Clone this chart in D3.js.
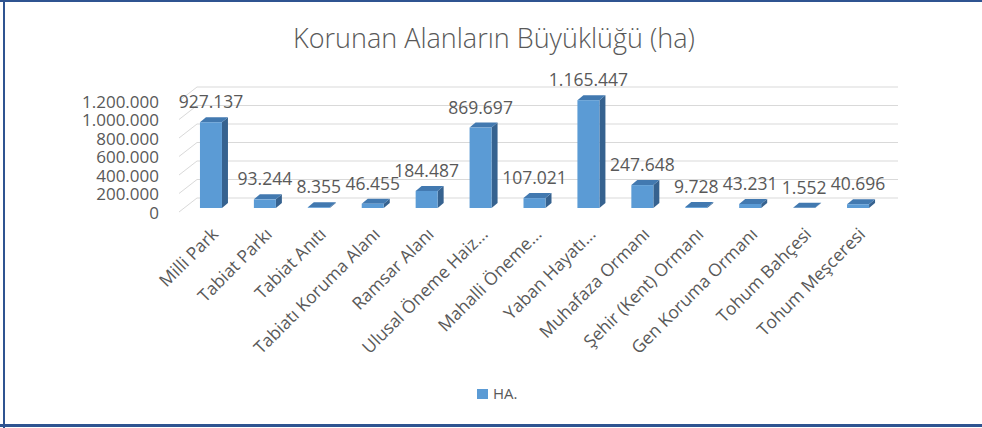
<!DOCTYPE html>
<meta charset="utf-8">
<style>
body { margin: 0; background: #fff; }
text { font-family: "Open Sans", "Noto Sans", sans-serif; fill: #595959; }
.grid { stroke: #d9d9d9; stroke-width: 1; fill: none; }
</style>
<svg id="chart" width="982" height="428"></svg>
<script src="https://cdnjs.cloudflare.com/ajax/libs/d3/7.8.5/d3.min.js"></script>
<script>

var categories = ["Milli Park", "Tabiat Parkı", "Tabiat Anıtı", "Tabiatı Koruma Alanı", "Ramsar Alanı",
  "Ulusal Öneme Haiz...", "Mahalli Öneme...", "Yaban Hayatı...", "Muhafaza Ormanı",
  "Şehir (Kent) Ormanı", "Gen Koruma Ormanı", "Tohum Bahçesi", "Tohum Meşceresi"];
var values = [927137, 93244, 8355, 46455, 184487, 869697, 107021, 1165447, 247648, 9728, 43231, 1552, 40696];
var yTicks = [0, 200000, 400000, 600000, 800000, 1000000, 1200000];
var seriesName = "HA.";
var title = "Korunan Alanların Büyüklüğü (ha)";

var svg = d3.select("#chart"),
    width = +svg.attr("width"),
    height = +svg.attr("height");

var trFormat = d3.formatLocale({decimal: ",", thousands: ".", grouping: [3], currency: ["", " TL"]}).format(",d");

// back wall coordinates
var x = d3.scaleBand().domain(categories).range([197, 898]);
var y = d3.scaleLinear().domain([0, 1200000]).range([198, 87]);

// depth of the side wall and where the bar fronts sit
var wallDx = -18, wallDy = 14;
var frontDx = -13, frontDy = 10;
var barW = 22, depthDx = 6, depthDy = -5;

// border (top, left, bottom)
svg.append("rect").attr("x", 0).attr("y", 0).attr("width", width).attr("height", 2).attr("fill", "#2f5491");
svg.append("rect").attr("x", 3).attr("y", 0).attr("width", 2).attr("height", height).attr("fill", "#2f5491");
svg.append("rect").attr("x", 0).attr("y", 424).attr("width", width).attr("height", 3).attr("fill", "#2f5491");

svg.append("text")
    .attr("x", 494)
    .attr("y", 48)
    .attr("text-anchor", "middle")
    .style("font-size", "27px")
    .style("font-weight", 300)
    .text(title);

// gridlines on the back wall and side wall
var grid = svg.append("g");
yTicks.forEach(function(t) {
  grid.append("path")
    .attr("class", "grid")
    .attr("d", "M" + (x.range()[0] + wallDx) + "," + (y(t) + wallDy) +
               " L" + x.range()[0] + "," + y(t) +
               " L" + x.range()[1] + "," + y(t));
});

svg.append("g").selectAll("text")
  .data(yTicks)
  .enter().append("text")
    .attr("x", 159)
    .attr("y", function(d) { return y(d) + 15; })
    .attr("dy", "0.35em")
    .attr("text-anchor", "end")
    .style("font-size", "17px")
    .text(function(d) { return trFormat(d); });

// bars
var bars = svg.append("g").selectAll("g")
  .data(values)
  .enter().append("g");

function fx(i) { return x(categories[i]) + x.bandwidth() / 2 + frontDx - barW / 2; }
function fy(v) { return y(v) + frontDy; }
var y0 = fy(0);

bars.append("path")
    .attr("fill", "#36628f")
    .attr("d", function(d, i) {
      var x1 = fx(i) + barW, t = fy(d);
      return "M" + x1 + "," + t + " L" + (x1 + depthDx) + "," + (t + depthDy) +
             " L" + (x1 + depthDx) + "," + (y0 + depthDy) + " L" + x1 + "," + y0 + "Z";
    });
bars.append("path")
    .attr("fill", "#4279b0")
    .attr("d", function(d, i) {
      var x0 = fx(i), t = fy(d);
      return "M" + x0 + "," + t + " L" + (x0 + depthDx) + "," + (t + depthDy) +
             " L" + (x0 + barW + depthDx) + "," + (t + depthDy) + " L" + (x0 + barW) + "," + t + "Z";
    });
bars.append("rect")
    .attr("fill", "#5b9bd5")
    .attr("x", function(d, i) { return fx(i); })
    .attr("y", function(d) { return fy(d); })
    .attr("width", barW)
    .attr("height", function(d) { return y0 - fy(d); });

bars.append("text")
    .attr("x", function(d, i) { return fx(i) + barW / 2; })
    .attr("y", function(d) { return fy(d) - 14; })
    .attr("text-anchor", "middle")
    .style("font-size", "17.5px")
    .text(function(d) { return trFormat(d); });

// category labels
svg.append("g").selectAll("text")
  .data(categories)
  .enter().append("text")
    .attr("text-anchor", "end")
    .attr("dy", "0.35em")
    .attr("transform", function(d) {
      var cx = x(d) + x.bandwidth() / 2 + frontDx + 4;
      return "translate(" + cx + "," + 231 + ") rotate(-45)";
    })
    .style("font-size", "17.5px")
    .text(function(d) { return d; });

// legend
svg.append("rect")
    .attr("x", 477).attr("y", 389)
    .attr("width", 11).attr("height", 10)
    .attr("fill", "#5b9bd5");
svg.append("text")
    .attr("x", 493)
    .attr("y", 394)
    .attr("dy", "0.35em")
    .style("font-size", "15px")
    .text(seriesName);

</script>
